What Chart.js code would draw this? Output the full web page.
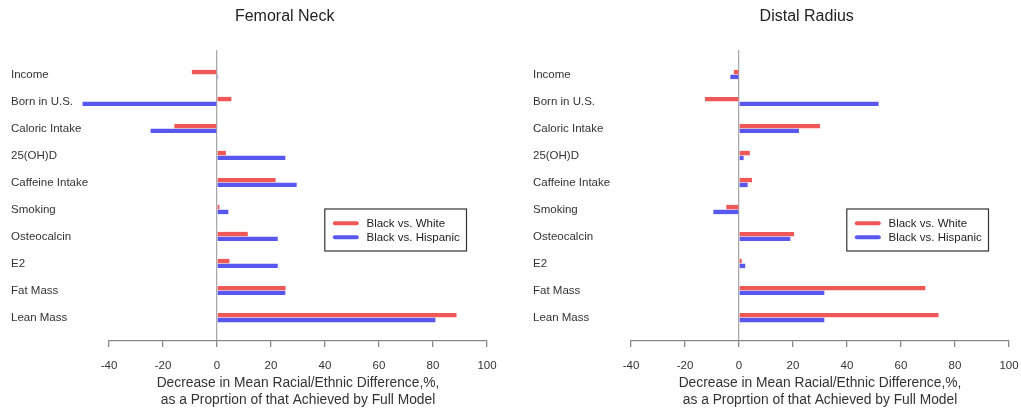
<!DOCTYPE html>
<html><head><meta charset="utf-8">
<script src="https://cdn.jsdelivr.net/npm/chart.js@4.4.1/dist/chart.umd.min.js"></script>
<style>
html,body{margin:0;padding:0;background:#fff;width:1021px;height:410px;overflow:hidden}
.box{position:absolute;top:0;height:410px;width:499px}
</style></head><body>
<div class="box" style="left:0"><canvas id="c1"></canvas></div>
<div class="box" style="left:522px"><canvas id="c2"></canvas></div>
<script>
const categories = ['Income','Born in U.S.','Caloric Intake','25(OH)D','Caffeine Intake','Smoking','Osteocalcin','E2','Fat Mass','Lean Mass'];
const seriesNames = ['Black vs. White','Black vs. Hispanic'];
const femoralWhite    = [-9.3, 5.3, -15.8, 3.3, 21.7, 0.9, 11.4, 4.6, 25.4, 88.7];
const femoralHispanic = [0.4, -49.8, -24.6, 25.3, 29.5, 4.2, 22.5, 22.5, 25.3, 80.9];
const radiusWhite     = [-1.9, -12.6, 30.0, 4.0, 4.8, -4.7, 20.4, 1.0, 69.0, 73.9];
const radiusHispanic  = [-3.2, 51.7, 22.2, 1.7, 3.2, -9.5, 19.0, 2.3, 31.6, 31.6];
const xTicks = [-40, -20, 0, 20, 40, 60, 80, 100];
const panelTitles = ['Femoral Neck', 'Distal Radius'];
const xTitle = ['Decrease in Mean Racial/Ethnic Difference,%,', 'as a Proprtion of that Achieved by Full Model'];

const RED = 'rgb(240,88,88)';
const BLUE = 'rgb(88,88,240)';
const FONT = '"Liberation Sans", Arial, Helvetica, sans-serif';
Chart.defaults.font.family = FONT;

const Y_MIN = -0.907, Y_MAX = 9.87;

const deco = {
  id: 'deco',
  afterDraw(chart, args, opts) {
    const {ctx, chartArea: a} = chart;
    ctx.save();
    ctx.font = '16px ' + FONT;
    ctx.fillStyle = '#222';
    ctx.textAlign = 'center';
    ctx.textBaseline = 'middle';
    ctx.fillText(opts.title, (a.left + a.right) / 2 - 13.3, 17);
    // legend box
    const w = 141.7, h = 42;
    const x = a.right - 20.5 - w, y = a.top + 159;
    ctx.strokeStyle = '#333';
    ctx.lineWidth = 1.2;
    ctx.strokeRect(x, y, w, h);
    const ds = chart.data.datasets;
    ctx.font = '11.5px ' + FONT;
    ctx.textAlign = 'left';
    ctx.lineCap = 'round';
    ds.forEach((d, i) => {
      const ly = y + 14.3 + i * 14;
      ctx.strokeStyle = d.backgroundColor;
      ctx.lineWidth = 4;
      ctx.beginPath();
      ctx.moveTo(x + 10, ly);
      ctx.lineTo(x + 32, ly);
      ctx.stroke();
      ctx.fillStyle = '#222';
      ctx.fillText(d.label, x + 41.7, ly + 0.5);
    });
    ctx.restore();
  }
};

function makeChart(id, title, white, hisp) {
  const toPts = arr => arr.map((v, i) => ({x: v, y: i}));
  return new Chart(document.getElementById(id), {
    type: 'bar',
    data: {
      datasets: [
        {label: seriesNames[0], data: toPts(white), backgroundColor: RED, borderWidth: 0, clip: false},
        {label: seriesNames[1], data: toPts(hisp), backgroundColor: BLUE, borderWidth: 0, clip: false}
      ]
    },
    plugins: [deco],
    options: {
      indexAxis: 'y',
      responsive: true,
      maintainAspectRatio: false,
      animation: false,
      categoryPercentage: 0.36,
      barPercentage: 0.9,
      layout: {padding: {left: 11, right: 12, top: 50, bottom: 0}},
      plugins: {
        legend: {display: false},
        tooltip: {enabled: false},
        title: {display: false},
        deco: {title: title}
      },
      scales: {
        y: {
          type: 'linear',
          reverse: true,
          bounds: 'data',
          min: Y_MIN,
          max: Y_MAX,
          offset: false,
          afterBuildTicks: s => {
            s.ticks = categories.map((c, i) => ({value: i}));
            s.min = Y_MIN; s.max = Y_MAX;
          },
          afterFit: s => { s.width = 98; s.paddingTop = 0; s.paddingBottom = 0; },
          grid: {display: false},
          border: {display: false},
          ticks: {
            autoSkip: false,
            crossAlign: 'far',
            color: '#333',
            font: {size: 11.5},
            callback: v => categories[v]
          }
        },
        x: {
          type: 'linear',
          min: -40,
          max: 100,
          afterBuildTicks: s => {
            s.ticks = xTicks.map(v => ({value: v}));
            s.min = xTicks[0]; s.max = xTicks[xTicks.length - 1];
          },
          afterFit: s => { s.height = 69; s.paddingLeft = 0; s.paddingRight = 0; },
          grid: {
            drawOnChartArea: true,
            color: c => (c.tick && c.tick.value === 0) ? '#aaa' : 'rgba(0,0,0,0)',
            tickColor: '#888',
            tickLength: 6,
            lineWidth: 1.3
          },
          border: {display: true, color: '#888', width: 1.2},
          ticks: {color: '#333', font: {size: 11.5}, padding: 12, maxRotation: 0},
          title: {
            display: true,
            text: xTitle,
            color: '#333',
            font: {size: 13.8, lineHeight: 1.25},
            padding: {top: 0, bottom: 1}
          }
        }
      }
    }
  });
}

makeChart('c1', panelTitles[0], femoralWhite, femoralHispanic);
makeChart('c2', panelTitles[1], radiusWhite, radiusHispanic);
</script>
</body></html>
